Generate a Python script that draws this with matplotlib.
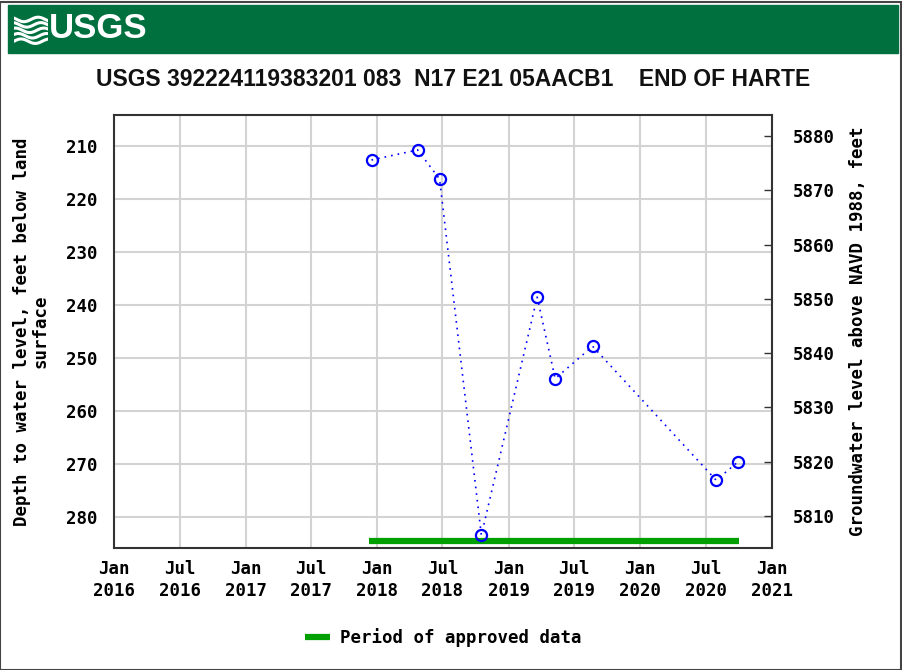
import numpy as np
import matplotlib
matplotlib.use("Agg")
import matplotlib.pyplot as plt
import matplotlib.dates as mdates
from matplotlib.patches import Rectangle
import datetime as dt

# measurement dates and depth to water (ft below land surface)
dates = ["2017-12-16", "2018-04-23", "2018-06-23", "2018-10-17", "2019-03-21",
         "2019-05-10", "2019-08-22", "2020-07-30", "2020-09-29"]
depth = [212.6, 210.7, 216.2, 283.5, 238.5, 253.9, 247.8, 273.1, 269.6]

approved_start = "2017-12-10"
approved_end = "2020-09-30"

xticks = ["2016-01-01", "2016-07-01", "2017-01-01", "2017-07-01", "2018-01-01", "2018-07-01",
          "2019-01-01", "2019-07-01", "2020-01-01", "2020-07-01", "2021-01-01"]
xticklabels = ["Jan\n2016", "Jul\n2016", "Jan\n2017", "Jul\n2017", "Jan\n2018", "Jul\n2018",
               "Jan\n2019", "Jul\n2019", "Jan\n2020", "Jul\n2020", "Jan\n2021"]
left_ticks = [210, 220, 230, 240, 250, 260, 270, 280]
right_ticks = [5810, 5820, 5830, 5840, 5850, 5860, 5870, 5880]

title = "USGS 392224119383201 083  N17 E21 05AACB1    END OF HARTE"

d = [dt.datetime.strptime(s, "%Y-%m-%d") for s in dates]
xt = [dt.datetime.strptime(s, "%Y-%m-%d") for s in xticks]

mono = "DejaVu Sans Mono"
fs = 12.5

fig = plt.figure(figsize=(9.03, 6.70), dpi=100)

# header band
fig.patches.append(Rectangle((8 / 903, 1 - 53 / 670), 890 / 903, 48 / 670,
                             transform=fig.transFigure, color="#00703f", zorder=0))
fig.text(49 / 903, 1 - 29 / 670, "USGS", color="white", fontsize=25, fontweight="bold",
         family="Liberation Sans", va="center", ha="left")
wax = fig.add_axes([14 / 903, 1 - 46 / 670, 34 / 903, 32 / 670])
wax.set_zorder(5)
t = np.linspace(0, 1, 50)
for k in range(5):
    wax.plot(t, 0.15 + k * 0.17 + 0.07 * np.sin(2 * np.pi * (t * 1.2 + k * 0.1)),
             color="white", lw=2.2)
wax.set_xlim(0, 1)
wax.set_ylim(0, 1)
wax.axis("off")

# outer frame
fig.patches.append(Rectangle((0.5 / 903, 0.5 / 670), 901 / 903, 668 / 670, transform=fig.transFigure,
                             fill=False, edgecolor="#444444", lw=1.5))

fig.text(453 / 903, 1 - 80 / 670, title, ha="center", va="center", fontsize=16.5,
         family="Liberation Sans", fontweight="bold", color="#111111")

ax = fig.add_axes([114 / 903, 1 - 548 / 670, 658 / 903, 433 / 670])
ax.plot(d, depth, color="blue", ls=(0, (1, 3)), lw=1.2, marker="o", ms=8,
        mfc="none", mec="blue", mew=1.6, zorder=3)
ax.plot([dt.datetime.strptime(approved_start, "%Y-%m-%d"),
         dt.datetime.strptime(approved_end, "%Y-%m-%d")], [284.6, 284.6],
        color="#00a000", lw=4.5, solid_capstyle="butt", zorder=2)

ax.set_xlim(xt[0], xt[-1])
ax.set_ylim(285.9, 204.1)
ax.set_xticks(xt)
ax.set_xticklabels(xticklabels, family=mono, fontweight="bold", fontsize=fs, linespacing=1.25)
ax.set_yticks(left_ticks)
ax.set_yticklabels([str(v) for v in left_ticks], family=mono, fontweight="bold", fontsize=fs)
ax.tick_params(axis="y", length=0, pad=12)
ax.tick_params(axis="x", length=0, pad=9)
ax.grid(True, color="#d3d3d3", lw=1.5)
ax.set_axisbelow(True)
for s in ax.spines.values():
    s.set_color("#333333")
    s.set_linewidth(1.5)
ax.set_ylabel("Depth to water level, feet below land\nsurface", family=mono,
              fontweight="bold", fontsize=fs, labelpad=12, linespacing=1.0)

ax2 = ax.twinx()
ax2.set_ylim(5804.1, 5883.9)
ax2.set_yticks(right_ticks)
ax2.set_yticklabels([str(v) for v in right_ticks], family=mono, fontweight="bold", fontsize=fs)
ax2.tick_params(axis="y", direction="in", length=6, width=1, pad=15, color="#333333")
for s in ax2.spines.values():
    s.set_visible(False)
ax2.set_ylabel("Groundwater level above NAVD 1988, feet", family=mono,
               fontweight="bold", fontsize=fs, labelpad=10)

# legend
lax = fig.add_axes([0, 0, 1, 1], facecolor="none")
lax.set_xlim(0, 903)
lax.set_ylim(670, 0)
lax.axis("off")
lax.plot([305, 330], [637, 637], color="#00a000", lw=4.5, solid_capstyle="butt")
lax.text(340, 638, "Period of approved data", family=mono, fontweight="bold",
         fontsize=fs, va="center", ha="left")

fig.savefig("out.png", dpi=100)
